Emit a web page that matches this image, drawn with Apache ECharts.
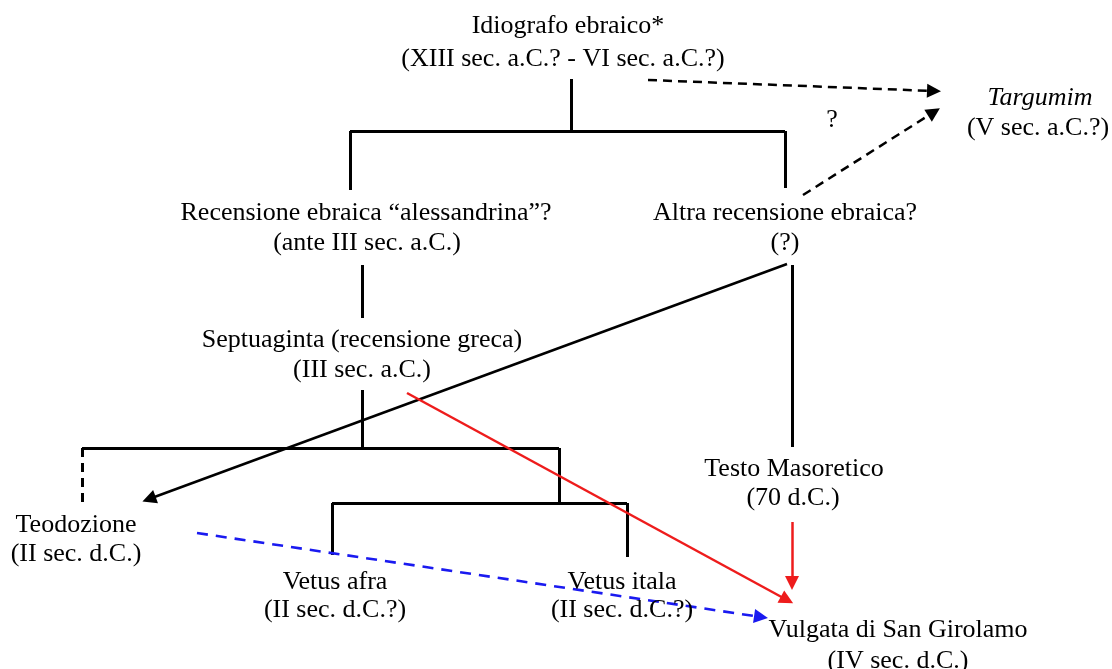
<!DOCTYPE html>
<html>
<head>
<meta charset="utf-8">
<script src="https://cdn.jsdelivr.net/npm/echarts@6/dist/echarts.min.js"></script>
<style>
  html, body { margin: 0; padding: 0; background: #fff; }
  #main { width: 1112px; height: 669px; }
</style>
</head>
<body>
<div id="main"></div>
<script>
// testi del diagramma (una riga per voce)
var labelText = [
  "Idiografo ebraico*", "(XIII sec. a.C.? - VI sec. a.C.?)",
  "Targumim", "(V sec. a.C.?)", "?",
  "Recensione ebraica \u201calessandrina\u201d?", "(ante III sec. a.C.)",
  "Altra recensione ebraica?", "(?)",
  "Septuaginta (recensione greca)", "(III sec. a.C.)",
  "Teodozione", "(II sec. d.C.)",
  "Vetus afra", "(II sec. d.C.?)",
  "Vetus itala", "(II sec. d.C.?)",
  "Testo Masoretico", "(70 d.C.)",
  "Vulgata di San Girolamo", "(IV sec. d.C.)"
];
var labelX = [568, 563, 1040, 1038, 832, 366, 367, 785, 785, 362, 362, 76, 76, 335, 335, 622, 622, 794, 793, 898, 898];
var labelY = [26, 59, 98, 128, 120, 213, 243, 213, 243, 340, 370, 525, 554, 582, 610, 582, 610, 469, 498, 630, 661];

// rami dello stemma [x1, y1, x2, y2]
var treeLinks = [
  [571, 79, 571, 131], [350, 131, 785, 131], [350, 131, 350, 190], [785, 131, 785, 188],
  [362, 265, 362, 318], [362, 390, 362, 448], [82, 448, 559, 448], [559, 448, 559, 503],
  [332, 503, 627, 503], [332, 503, 332, 555], [627, 503, 627, 557], [792, 265, 792, 447]
];
var dashedLinks = [[82, 448, 82, 502]];
// frecce
var blackDashArrows = [[648, 80, 934, 91], [803, 195, 934, 112]];
var blackArrows = [[787, 264, 149, 499]];
var redArrows = [[792, 522, 792, 583], [407, 393, 787, 600]];
var blueArrows = [[197, 533, 761, 617]];

function toLines(arr) {
  var out = [];
  for (var i = 0; i < arr.length; i++) {
    out.push({ coords: [[arr[i][0], arr[i][1]], [arr[i][2], arr[i][3]]] });
  }
  return out;
}

var labelData = [];
for (var i = 0; i < labelText.length; i++) {
  var item = { value: [labelX[i], labelY[i]], name: labelText[i] };
  if (labelText[i] == "Targumim") {
    item.label = { fontStyle: 'italic' };
  }
  labelData.push(item);
}

var mycharts = echarts.init(document.getElementById('main'));
var option = {
  backgroundColor: '#fff',
  animation: false,
  grid: { left: 0, right: 0, top: 0, bottom: 0 },
  xAxis: { type: 'value', min: 0, max: 1112, show: false },
  yAxis: { type: 'value', min: 0, max: 669, inverse: true, show: false },
  series: [
    {
      type: 'lines', coordinateSystem: 'cartesian2d', symbol: 'none',
      lineStyle: { color: '#000', width: 3, opacity: 1 },
      data: toLines(treeLinks)
    },
    {
      type: 'lines', coordinateSystem: 'cartesian2d', symbol: 'none',
      lineStyle: { color: '#000', width: 3, type: [9, 6], opacity: 1 },
      data: toLines(dashedLinks)
    },
    {
      type: 'lines', coordinateSystem: 'cartesian2d',
      symbol: ['none', 'triangle'], symbolSize: [0, 14],
      lineStyle: { color: '#000', width: 2.5, type: [9, 6], opacity: 1 },
      data: toLines(blackDashArrows)
    },
    {
      type: 'lines', coordinateSystem: 'cartesian2d',
      symbol: ['none', 'triangle'], symbolSize: [0, 14],
      lineStyle: { color: '#000', width: 2.5, opacity: 1 },
      data: toLines(blackArrows)
    },
    {
      type: 'lines', coordinateSystem: 'cartesian2d',
      symbol: ['none', 'triangle'], symbolSize: [0, 14],
      lineStyle: { color: '#ee1c1c', width: 2.5, opacity: 1 },
      data: toLines(redArrows)
    },
    {
      type: 'lines', coordinateSystem: 'cartesian2d',
      symbol: ['none', 'triangle'], symbolSize: [0, 14],
      lineStyle: { color: '#1a1af0', width: 2.6, type: [11, 8], opacity: 1 },
      data: toLines(blueArrows)
    },
    {
      type: 'scatter', symbolSize: 0, z: 10,
      itemStyle: { color: '#000', opacity: 1 },
      label: {
        show: true, position: 'inside',
        formatter: function(p) { return p.name; },
        fontFamily: '"Liberation Serif", "Times New Roman", serif',
        fontSize: 26, color: '#000', opacity: 1,
        align: 'center', verticalAlign: 'middle'
      },
      data: labelData
    }
  ]
};
mycharts.setOption(option);
</script>
</body>
</html>
